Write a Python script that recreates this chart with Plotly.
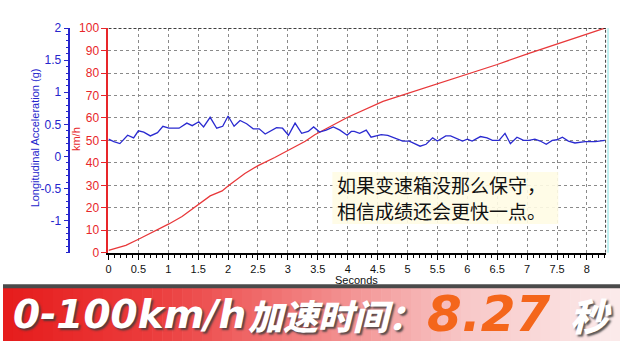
import plotly.graph_objects as go

# ---- data ----
accel_t = [0.00, 0.09, 0.19, 0.32, 0.42, 0.50, 0.59, 0.70, 0.82, 0.91, 1.01, 1.18, 1.31, 1.40,
           1.51, 1.59, 1.70, 1.81, 1.91, 2.00, 2.10, 2.20, 2.31, 2.42, 2.52, 2.62, 2.81, 2.91,
           3.01, 3.12, 3.23, 3.34, 3.43, 3.53, 3.64, 3.76, 3.87, 3.99, 4.06, 4.11, 4.20, 4.31,
           4.39, 4.56, 4.67, 4.78, 4.92, 5.03, 5.11, 5.21, 5.31, 5.42, 5.50, 5.64, 5.72, 5.84,
           5.92, 6.00, 6.08, 6.22, 6.33, 6.42, 6.53, 6.63, 6.72, 6.83, 6.94, 7.03, 7.13, 7.22,
           7.32, 7.42, 7.50, 7.59, 7.69, 7.80, 7.97, 8.14, 8.30]
accel_g = [0.27, 0.23, 0.20, 0.33, 0.29, 0.40, 0.38, 0.32, 0.37, 0.47, 0.44, 0.44, 0.52, 0.48,
           0.54, 0.46, 0.61, 0.44, 0.47, 0.63, 0.47, 0.56, 0.51, 0.43, 0.43, 0.35, 0.45, 0.44,
           0.33, 0.52, 0.36, 0.39, 0.46, 0.38, 0.41, 0.46, 0.41, 0.33, 0.39, 0.39, 0.36, 0.41,
           0.30, 0.34, 0.33, 0.29, 0.24, 0.24, 0.21, 0.16, 0.19, 0.29, 0.24, 0.32, 0.32, 0.27,
           0.24, 0.27, 0.24, 0.31, 0.29, 0.25, 0.25, 0.36, 0.20, 0.30, 0.25, 0.25, 0.27, 0.24,
           0.19, 0.25, 0.26, 0.30, 0.24, 0.21, 0.23, 0.23, 0.25]

speed_t = [0.00, 0.29, 0.51, 0.815, 1.01, 1.23, 1.48, 1.70, 1.90, 2.01, 2.28, 2.51, 2.78, 3.01,
           3.29, 3.45, 4.00, 4.59, 5.17, 5.50, 6.00, 6.50, 7.03, 7.50, 7.89, 8.30]
speed_kmh = [1.0, 3.3, 6.1, 10.0, 12.8, 16.1, 21.1, 25.3, 27.5, 29.9, 35.3, 38.9, 42.4, 45.6,
             49.6, 52.5, 60.3, 67.4, 72.4, 75.2, 79.5, 83.8, 88.8, 93.0, 96.3, 100.0]

accel_tickvals = [-1, -0.5, 0, 0.5, 1, 1.5, 2]
accel_ticktext = ["-1", "-0.5", "0", "0.5", "1", "1.5", "2"]

note_lines = ["如果变速箱没那么保守，", "相信成绩还会更快一点。"]
result_time = "8.27"

W, H = 620, 348
RED = "#e8262a"
BLUE = "#2626cc"

def px(x):
    return x / W

def py(y):
    return 1 - y / H

XMAX = 8.32

fig = go.Figure()
fig.add_trace(go.Scatter(x=speed_t, y=speed_kmh, mode="lines",
                         line=dict(color="#e8383a", width=1.3), yaxis="y", showlegend=False))
fig.add_trace(go.Scatter(x=accel_t, y=accel_g, mode="lines",
                         line=dict(color="#2a2ad0", width=1.3), yaxis="y2", showlegend=False))

fig.update_layout(
    width=W, height=H,
    margin=dict(l=0, r=0, t=0, b=0),
    paper_bgcolor="white", plot_bgcolor="white",
    font=dict(family="Liberation Sans, Arial, sans-serif", size=11, color="black"),
    xaxis=dict(domain=[px(106), px(606)], range=[0, XMAX], dtick=0.5, tick0=0,
               showgrid=True, gridcolor="#8a8a8a", griddash="3px,3px", gridwidth=1,
               showline=True, linecolor="black", linewidth=2,
               ticks="outside", ticklen=5, tickcolor="black", tickwidth=1,
               minor=dict(dtick=0.1, ticks="outside", ticklen=3, tickcolor="black", showgrid=False),
               tickfont=dict(size=11, color="#111"), zeroline=False, fixedrange=True),
    yaxis=dict(domain=[py(256), py(22)], range=[0, 100], dtick=10, tick0=0,
               showgrid=True, gridcolor="#8a8a8a", griddash="3px,3px", gridwidth=1,
               showline=True, linecolor=RED, linewidth=2,
               ticks="outside", ticklen=5, tickcolor=RED,
               tickfont=dict(size=12, color=RED), zeroline=False, anchor="x"),
    yaxis2=dict(overlaying="y", anchor="free", position=px(66), side="left",
                range=[-1.5, 2], tickvals=accel_tickvals, ticktext=accel_ticktext,
                showgrid=False, zeroline=False,
                showline=True, linecolor=BLUE, linewidth=2,
                ticks="outside", ticklen=4, tickcolor=BLUE,
                minor=dict(dtick=0.1, ticks="outside", ticklen=2, tickcolor=BLUE),
                tickfont=dict(size=12, color=BLUE)),
)

shapes = []
# plot frame top and right (dashed black)
shapes.append(dict(type="line", xref="x", yref="y", x0=0, x1=XMAX, y0=100, y1=100,
                   line=dict(color="black", width=1.5, dash="3px,2px")))
shapes.append(dict(type="line", xref="x", yref="y", x0=XMAX, x1=XMAX, y0=0, y1=100,
                   line=dict(color="black", width=1.5, dash="3px,2px")))
shapes.append(dict(type="line", xref="paper", yref="paper", x0=px(608), x1=px(608),
                   y0=py(256), y1=py(22), line=dict(color="#bff0f0", width=2)))
# cream background behind the note
shapes.append(dict(type="rect", xref="paper", yref="paper", x0=px(331), x1=px(558),
                   y0=py(226), y1=py(172), fillcolor="rgba(255,252,228,0.9)",
                   line=dict(width=0), layer="above"))

# bottom banner gradient
stops = [(0.0, (230, 28, 28)), (0.25, (236, 62, 62)), (0.5, (242, 130, 130)),
         (0.75, (248, 200, 200)), (1.0, (252, 236, 236))]

def grad(f):
    for i in range(len(stops) - 1):
        a, ca = stops[i]
        b, cb = stops[i + 1]
        if a <= f <= b:
            t = (f - a) / (b - a)
            return "rgb(%d,%d,%d)" % tuple(int(ca[k] + (cb[k] - ca[k]) * t) for k in range(3))
    return "rgb(252,236,236)"

N = 62
for i in range(N):
    x0 = i * W / N
    x1 = (i + 1) * W / N + 0.6
    shapes.append(dict(type="rect", xref="paper", yref="paper",
                       x0=px(x0), x1=px(x1), y0=0, y1=py(292),
                       fillcolor=grad((i + 0.5) / N), line=dict(width=0)))
shapes.append(dict(type="rect", xref="paper", yref="paper", x0=0, x1=1,
                   y0=py(293), y1=py(289), fillcolor="#4a4a4a", line=dict(width=0)))
fig.update_layout(shapes=shapes)

ann = []
ann.append(dict(text="km/h", x=px(74), y=py(138), xref="paper", yref="paper",
                xanchor="center", yanchor="middle",
                textangle=-90, showarrow=False, font=dict(size=11, color=RED)))
ann.append(dict(text="Longitudinal Acceleration (g)", x=px(32), y=py(136),
                xref="paper", yref="paper", xanchor="center", yanchor="middle",
                textangle=-90, showarrow=False,
                font=dict(size=11, color=BLUE)))
ann.append(dict(text="Seconds", x=px(355), y=py(284), xref="paper", yref="paper",
                xanchor="center", yanchor="middle",
                showarrow=False, font=dict(size=11, color="#111")))
for line_text, yy in zip(note_lines, [185, 212]):
    ann.append(dict(text=line_text, x=px(334), y=py(yy), xref="paper", yref="paper",
                    xanchor="left", yanchor="middle", align="left", showarrow=False,
                    font=dict(family="Noto Sans CJK SC", size=19, color="#111")))

shadow = "2px 2px 2px rgba(60,60,60,0.85)"
ann.append(dict(text="0-100km/h", x=px(8), y=py(320), xref="paper", yref="paper",
                xanchor="left", yanchor="middle", showarrow=False,
                font=dict(family="DejaVu Sans", size=39, color="white",
                          weight="bold", style="italic", shadow=shadow)))
ann.append(dict(text="加速时间：", x=px(244), y=py(320), xref="paper", yref="paper",
                xanchor="left", yanchor="middle", showarrow=False,
                font=dict(family="Noto Sans CJK SC", size=35, color="white",
                          weight=900, style="italic", shadow=shadow)))
ann.append(dict(text=result_time, x=px(424), y=py(320), xref="paper", yref="paper",
                xanchor="left", yanchor="middle", showarrow=False,
                font=dict(family="DejaVu Sans", size=50, color="#f4661b",
                          weight="bold", style="italic")))
ann.append(dict(text="秒", x=px(568), y=py(320), xref="paper", yref="paper",
                xanchor="left", yanchor="middle", showarrow=False,
                font=dict(family="Noto Sans CJK SC", size=38, color="white",
                          weight=900, style="italic", shadow=shadow)))
fig.update_layout(annotations=ann)

fig.write_html("out.html")
